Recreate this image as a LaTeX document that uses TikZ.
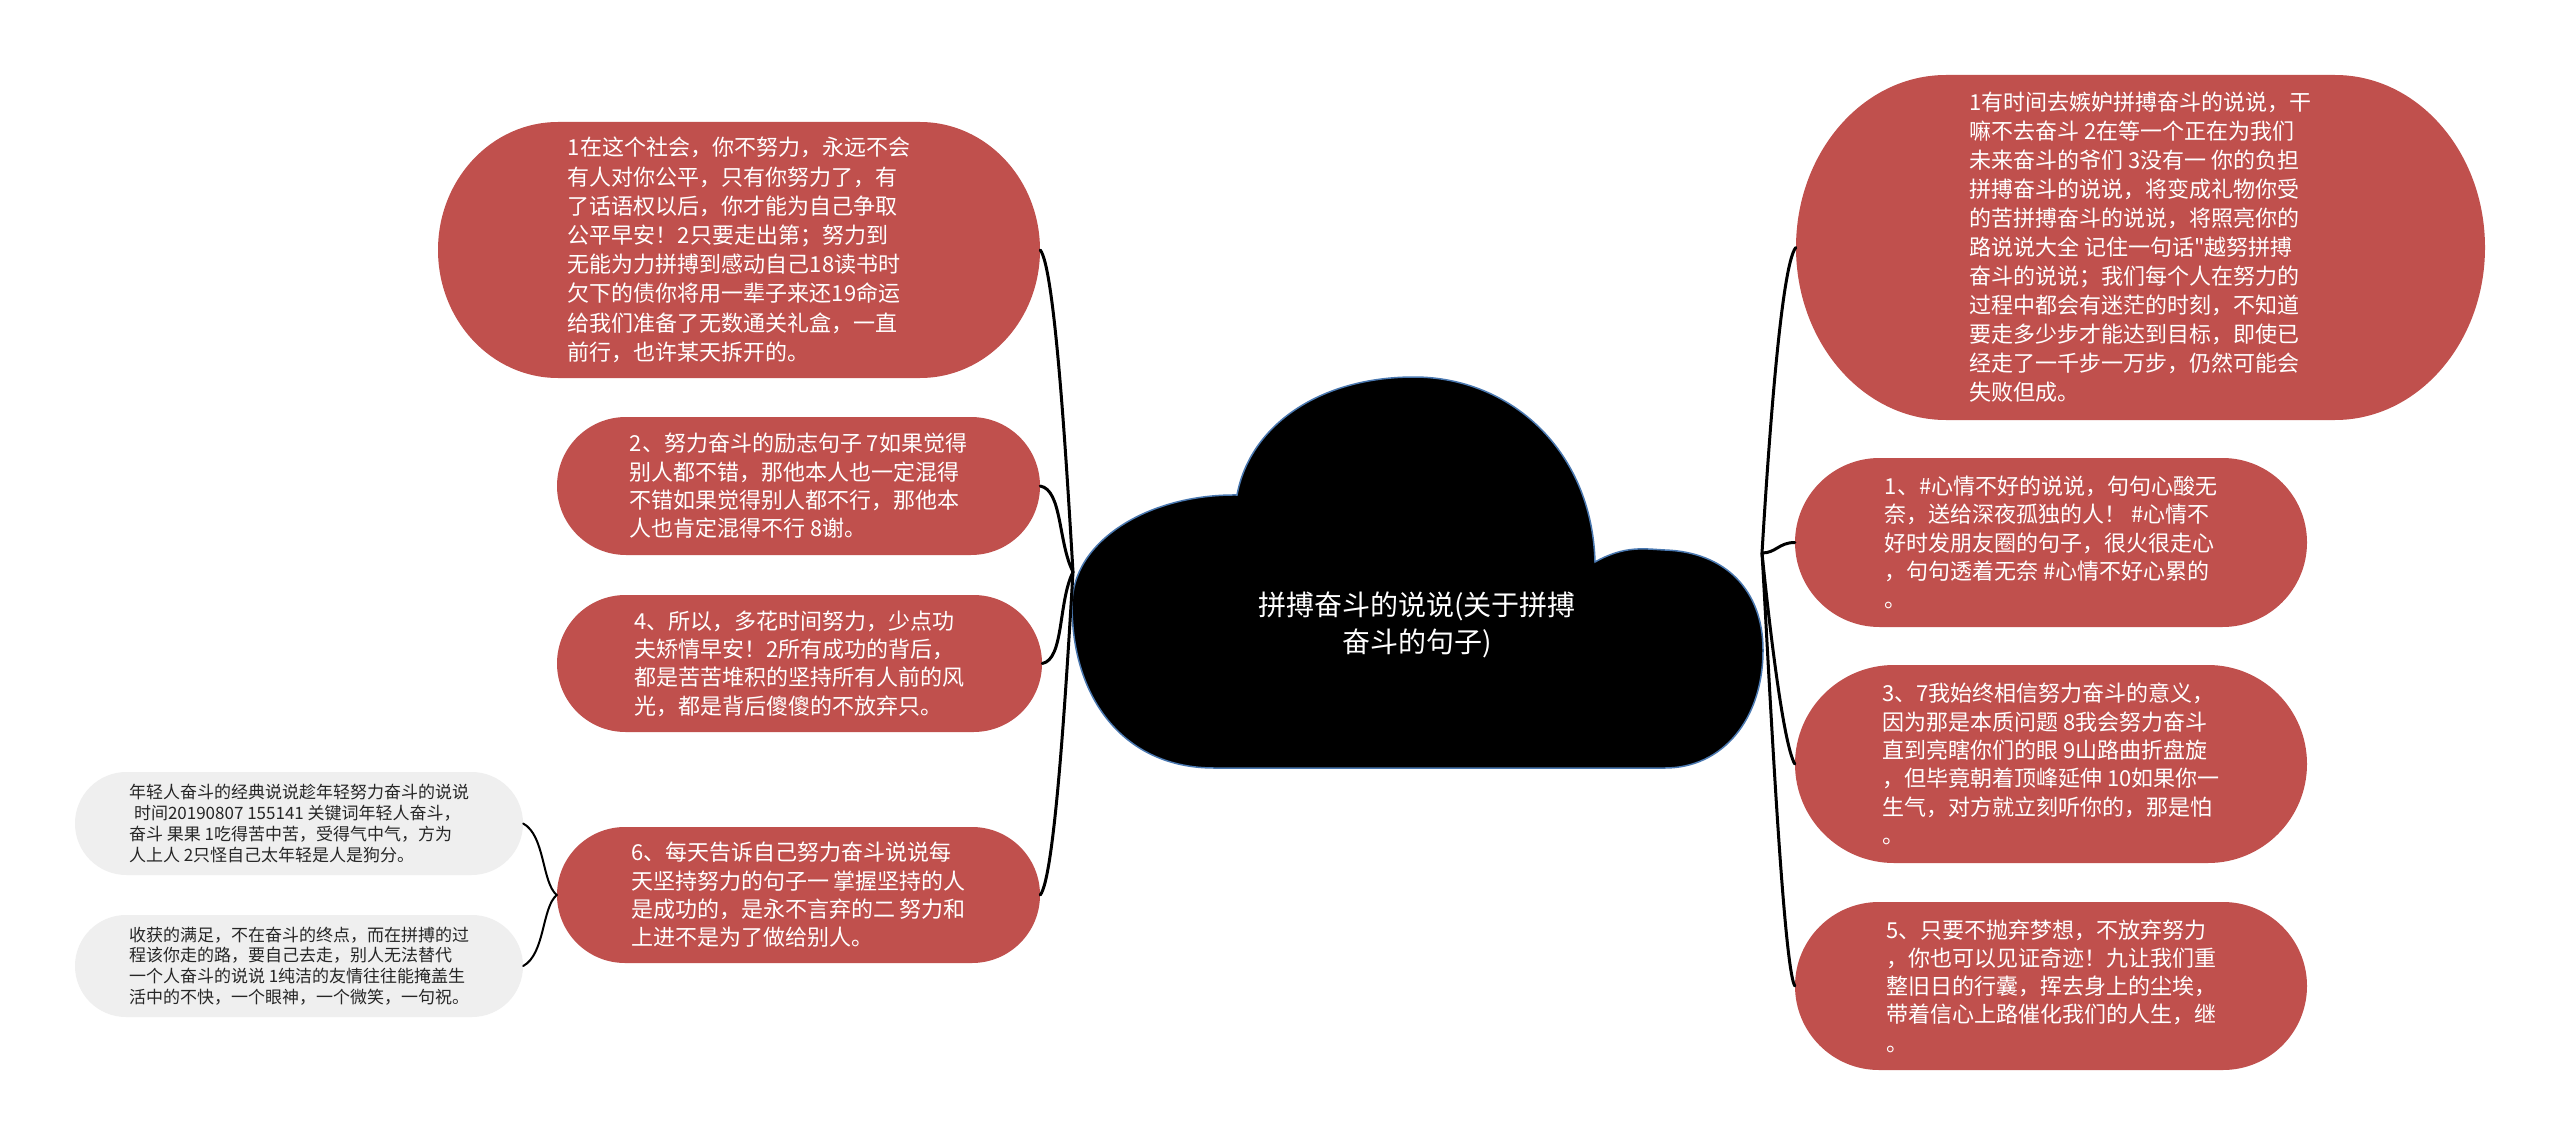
\documentclass[tikz,border=0pt]{standalone}
\usepackage{fontspec}
\newfontfamily\cjk{Noto Sans CJK SC}
\definecolor{boxred}{HTML}{C0504D}
\definecolor{boxgray}{HTML}{EFEFEF}
\definecolor{cloudline}{HTML}{4A78B0}
% #1 cx, #2 cy, #3 w, #4 h, #5 rx, #6 colour
\newcommand\pillfill[6]{%
  \fill[#6] ({#1-#3/2+#5},{#2-#4/2}) -- ({#1+#3/2-#5},{#2-#4/2})
    arc[start angle=90,end angle=-90,x radius=#5pt,y radius={#4/2*1pt}]
    -- ({#1-#3/2+#5},{#2+#4/2})
    arc[start angle=270,end angle=90,x radius=#5pt,y radius={#4/2*1pt}] -- cycle;}
\tikzset{
  redtxt/.style={inner sep=0pt, align=left, text=white, font={\cjk\fontsize{22}{28.3}\selectfont}},
  graytxt/.style={inner sep=0pt, align=left, text=black!85, font={\cjk\fontsize{17}{20.7}\selectfont}},
  titletxt/.style={inner sep=0pt, align=center, text=white, font={\cjk\fontsize{28}{36.7}\selectfont}},
  conn/.style={draw=black, line width=3pt, line cap=round},
  thinconn/.style={draw=black, line width=2pt, line cap=round}
}
\begin{document}
\begin{tikzpicture}[x=1pt,y=-1pt]
\useasboundingbox (0,0) rectangle (2560,1145);
\fill[white] (0,0) rectangle (2560,1145);

% cloud
\filldraw[fill=black, draw=cloudline, line width=1.5pt]
  (1214,768) .. controls (1125,768) and (1072,700) .. (1072,605)
  .. controls (1072,540) and (1150,494) .. (1237,495)
  .. controls (1250,425) and (1320,377) .. (1414,377)
  .. controls (1510,377) and (1592,450) .. (1595,562)
  .. controls (1625,545) and (1645,549) .. (1665,550)
  .. controls (1725,552) and (1763,590) .. (1763,650)
  .. controls (1763,720) and (1722,768) .. (1665,768)
  -- cycle;
\node[titletxt] (root) at (1417,625) {拼搏奋斗的说说(关于拼搏\\奋斗的句子)};

% box backgrounds
\pillfill{739}{250}{602}{256}{120}{boxred}
\pillfill{798.5}{486}{483}{138}{69}{boxred}
\pillfill{799.5}{663.5}{485}{137}{68.5}{boxred}
\pillfill{798.5}{895}{483}{136}{68}{boxred}
\pillfill{299}{823.5}{448}{103}{51.5}{boxgray}
\pillfill{299}{966}{448}{102}{51}{boxgray}
\pillfill{2140.5}{247.5}{689}{345}{150}{boxred}
\pillfill{2051}{542.5}{512}{169}{84.5}{boxred}
\pillfill{2051}{764}{512}{198}{99}{boxred}
\pillfill{2051}{986}{512}{168}{84}{boxred}

% texts
\node[redtxt, font={\cjk\fontsize{22}{29.2}\selectfont}, minimum width=602pt, minimum height=256pt] (b1) at (739,250) {1在这个社会，你不努力，永远不会\\有人对你公平，只有你努力了，有\\了话语权以后，你才能为自己争取\\公平早安！2只要走出第；努力到\\无能为力拼搏到感动自己18读书时\\欠下的债你将用一辈子来还19命运\\给我们准备了无数通关礼盒，一直\\前行，也许某天拆开的。};
\node[redtxt, minimum width=483pt, minimum height=138pt] (b2) at (798.5,486) {2、努力奋斗的励志句子 7如果觉得\\别人都不错，那他本人也一定混得\\不错如果觉得别人都不行，那他本\\人也肯定混得不行 8谢。};
\node[redtxt, minimum width=485pt, minimum height=137pt] (b3) at (799.5,663.5) {4、所以，多花时间努力，少点功\\夫矫情早安！2所有成功的背后，\\都是苦苦堆积的坚持所有人前的风\\光，都是背后傻傻的不放弃只。};
\node[redtxt, minimum width=483pt, minimum height=136pt] (b4) at (798.5,895) {6、每天告诉自己努力奋斗说说每\\天坚持努力的句子一 掌握坚持的人\\是成功的，是永不言弃的二 努力和\\上进不是为了做给别人。};
\node[graytxt, minimum width=448pt, minimum height=103pt] (g1) at (299,823.5) {年轻人奋斗的经典说说趁年轻努力奋斗的说说\\\hspace*{5pt}时间20190807 155141 关键词年轻人奋斗，\\奋斗 果果 1吃得苦中苦，受得气中气，方为\\人上人 2只怪自己太年轻是人是狗分。};
\node[graytxt, minimum width=448pt, minimum height=102pt] (g2) at (299,966) {收获的满足，不在奋斗的终点，而在拼搏的过\\程该你走的路，要自己去走，别人无法替代\\一个人奋斗的说说 1纯洁的友情往往能掩盖生\\活中的不快，一个眼神，一个微笑，一句祝。};
\node[redtxt, font={\cjk\fontsize{22}{29}\selectfont}, minimum width=689pt, minimum height=345pt] (ra) at (2140.5,247.5) {1有时间去嫉妒拼搏奋斗的说说，干\\嘛不去奋斗 2在等一个正在为我们\\未来奋斗的爷们 3没有一 你的负担\\拼搏奋斗的说说，将变成礼物你受\\的苦拼搏奋斗的说说，将照亮你的\\路说说大全 记住一句话"越努拼搏\\奋斗的说说；我们每个人在努力的\\过程中都会有迷茫的时刻，不知道\\要走多少步才能达到目标，即使已\\经走了一千步一万步，仍然可能会\\失败但成。};
\node[redtxt, minimum width=512pt, minimum height=169pt] (rb) at (2051,542.5) {1、\#心情不好的说说，句句心酸无\\奈，送给深夜孤独的人！ \#心情不\\好时发朋友圈的句子，很火很走心\\，句句透着无奈 \#心情不好心累的\\。};
\node[redtxt, minimum width=512pt, minimum height=198pt] (rc) at (2051,764) {3、7我始终相信努力奋斗的意义，\\因为那是本质问题 8我会努力奋斗\\直到亮瞎你们的眼 9山路曲折盘旋\\，但毕竟朝着顶峰延伸 10如果你一\\生气，对方就立刻听你的，那是怕\\。};
\node[redtxt, minimum width=512pt, minimum height=168pt] (rd) at (2051,986) {5、只要不抛弃梦想，不放弃努力\\，你也可以见证奇迹！九让我们重\\整旧日的行囊，挥去身上的尘埃，\\带着信心上路催化我们的人生，继\\。};

% hubs
\coordinate (hubL) at (1073,572);
\coordinate (hubR) at (1762,553);

% connectors left
\draw[conn] (hubL) .. controls +(-6,-100) and +(15,18) .. (b1.east);
\draw[conn] (hubL) .. controls +(-15,-30) and +(22,4) .. (b2.east);
\draw[conn] (hubL) .. controls +(-15,30) and +(22,-4) .. (b3.east);
\draw[conn] (hubL) .. controls +(-6,100) and +(15,-18) .. (b4.east);
% connectors right
\draw[conn] (hubR) .. controls +(6,-100) and +(-15,18) .. (ra.west);
\draw[conn] (hubR) .. controls +(14,0) and +(-16,0) .. (rb.west);
\draw[conn] (hubR) .. controls +(6,60) and +(-12,-20) .. (rc.west);
\draw[conn] (hubR) .. controls +(6,100) and +(-12,-20) .. (rd.west);
% gray connectors
\draw[thinconn] (b4.west) .. controls +(-15,-12) and +(22,12) .. (g1.east);
\draw[thinconn] (b4.west) .. controls +(-15,12) and +(22,-12) .. (g2.east);
\end{tikzpicture}
\end{document}
